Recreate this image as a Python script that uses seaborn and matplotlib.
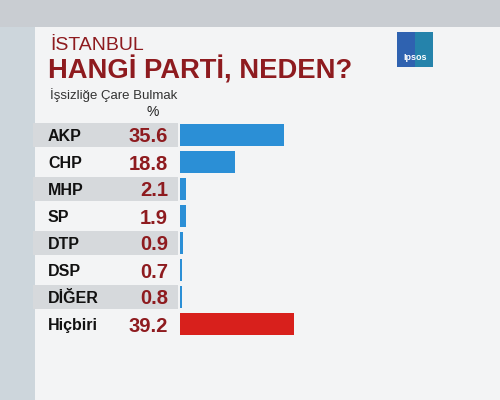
import matplotlib
matplotlib.use("Agg")
import matplotlib.pyplot as plt
import matplotlib.transforms as mtransforms
from matplotlib.patches import Rectangle
import seaborn as sns
import pandas as pd

parties = ["AKP", "CHP", "MHP", "SP", "DTP", "DSP", "DİĞER", "Hiçbiri"]
values = [35.6, 18.8, 2.1, 1.9, 0.9, 0.7, 0.8, 39.2]
value_labels = ["35.6", "18.8", "2.1", "1.9", "0.9", "0.7", "0.8", "39.2"]
groups = ["party"] * 7 + ["none"]

title_small = "İSTANBUL"
title_big = "HANGİ PARTİ, NEDEN?"
subtitle = "İşsizliğe Çare Bulmak"
unit = "%"

sns.set_theme(style="white")
plt.rcParams["font.family"] = ["Liberation Sans", "DejaVu Sans"]

W, H = 500, 400
fig = plt.figure(figsize=(5, 4), dpi=100)
fig.patch.set_facecolor("#eceef0")

def px(x, y, w, h):
    return [x / W, 1 - (y + h) / H, w / W, h / H]

# background decoration
fig.patches.append(Rectangle((0, 1 - 27 / H), 1, 27 / H, transform=fig.transFigure,
                             facecolor="#c9cdd2", edgecolor="none", zorder=-3))
fig.patches.append(Rectangle((0, 0), 35 / W, 1 - 27 / H, transform=fig.transFigure,
                             facecolor="#cdd6dc", edgecolor="none", zorder=-3))
fig.patches.append(Rectangle((35 / W, 0), 1 - 35 / W, 1 - 27 / H, transform=fig.transFigure,
                             facecolor="#f3f4f5", edgecolor="none", zorder=-3))

# bar axes
ax = fig.add_axes(px(180, 121.5, 140, 216))
ax.set_zorder(5)
df = pd.DataFrame({"party": parties, "value": values, "group": groups})
sns.barplot(data=df, y="party", x="value", hue="group", orient="h",
            palette={"party": "#2b8fd6", "none": "#d8201c"},
            dodge=False, width=0.82, legend=False, ax=ax, saturation=1,
            linewidth=0, edgecolor="none")
ax.set_xlim(0, 48)
ax.set_ylim(7.5, -0.5)
ax.axis("off")
ax.patch.set_alpha(0)

# row bands, labels, values
trans = mtransforms.blended_transform_factory(fig.transFigure, ax.transData)
for i, (p, v) in enumerate(zip(parties, value_labels)):
    if i % 2 == 0 and i < 7:
        fig.patches.append(Rectangle((33 / W, i - 0.45), (178 - 33) / W, 0.9, transform=trans,
                                     facecolor="#d6d9dc", edgecolor="none", zorder=-1))
    ax.text(48 / W, i, p, transform=trans, ha="left", va="center_baseline", fontsize=11.5,
            fontweight="bold", color="#111111", clip_on=False)
    ax.text(168 / W, i, v, transform=trans, ha="right", va="center_baseline", fontsize=14.5,
            fontweight="bold", color="#8e1b1f", clip_on=False,
            family=["Liberation Sans Narrow", "Liberation Sans", "DejaVu Sans"])

# titles
fig.text(50 / W, 1 - 45 / H, title_small, ha="left", va="center", fontsize=14, color="#8e1b1f")
fig.text(48 / W, 1 - 70 / H, title_big, ha="left", va="center", fontsize=19.7,
         fontweight="bold", color="#8e1b1f")
fig.text(50 / W, 1 - 95 / H, subtitle, ha="left", va="center", fontsize=9.5, color="#333333")
fig.text(153 / W, 1 - 112 / H, unit, ha="center", va="center", fontsize=10, color="#222222")

# logo
fig.patches.append(Rectangle((397 / W, 1 - 67 / H), 36 / W, 35 / H, transform=fig.transFigure,
                             facecolor="#2f62b0", edgecolor="none", zorder=1))
fig.patches.append(Rectangle((415 / W, 1 - 67 / H), 18 / W, 35 / H, transform=fig.transFigure,
                             facecolor="#1f9aa8", edgecolor="none", zorder=1, alpha=0.6))
fig.text(415 / W, 1 - 58 / H, "Ipsos", ha="center", va="center", fontsize=6.5,
         color="white", fontweight="bold", zorder=2)

fig.savefig("out.png", dpi=100, facecolor=fig.get_facecolor())
